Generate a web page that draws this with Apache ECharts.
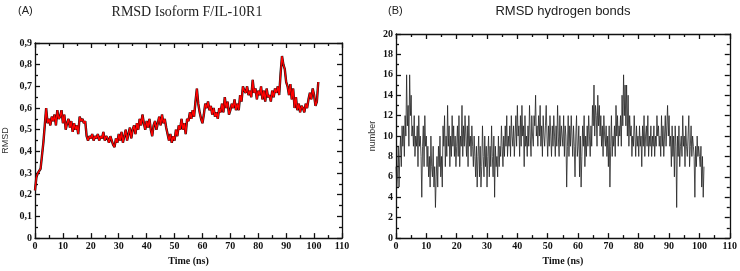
<!DOCTYPE html>
<html>
<head>
<meta charset="utf-8">
<script src="https://cdn.jsdelivr.net/npm/echarts@6/dist/echarts.min.js"></script>
<style>
  html, body { margin: 0; padding: 0; background: #fff; }
  #chart { width: 740px; height: 271px; }
</style>
</head>
<body>
<div id="chart"></div>
<script>
// panel A: RMSD (nm), one value every 0.5 ns from t = 0
const rmsdStep = 0.5;
const rmsdValues = [
  0.22, 0.28, 0.30, 0.30, 0.32, 0.38, 0.44, 0.52, 0.60, 0.53,
  0.55, 0.52, 0.56, 0.54, 0.57, 0.52, 0.59, 0.55, 0.56, 0.59,
  0.53, 0.57, 0.50, 0.53, 0.55, 0.51, 0.54, 0.49, 0.53, 0.50,
  0.52, 0.48, 0.56, 0.54, 0.55, 0.53, 0.54, 0.47, 0.45, 0.47,
  0.46, 0.48, 0.45, 0.47, 0.46, 0.48, 0.45, 0.47, 0.46, 0.49,
  0.45, 0.47, 0.46, 0.44, 0.47, 0.45, 0.43, 0.42, 0.46, 0.44,
  0.48, 0.45, 0.49, 0.44, 0.47, 0.50, 0.45, 0.48, 0.51, 0.46,
  0.50, 0.52, 0.48, 0.53, 0.50, 0.55, 0.52, 0.57, 0.53, 0.50,
  0.54, 0.51, 0.55, 0.50, 0.47, 0.52, 0.54, 0.50, 0.53, 0.56,
  0.52, 0.57, 0.53, 0.55, 0.51, 0.48, 0.45, 0.48, 0.44, 0.47,
  0.45, 0.50, 0.47, 0.52, 0.50, 0.55, 0.50, 0.53, 0.48, 0.55,
  0.54, 0.58, 0.55, 0.59, 0.56, 0.63, 0.69, 0.62, 0.58, 0.55,
  0.53, 0.57, 0.62, 0.60, 0.63, 0.59, 0.61, 0.57, 0.60, 0.56,
  0.58, 0.55, 0.60, 0.58, 0.62, 0.58, 0.65, 0.60, 0.63, 0.57,
  0.59, 0.62, 0.60, 0.64, 0.59, 0.62, 0.59, 0.66, 0.63, 0.70,
  0.68, 0.67, 0.70, 0.66, 0.68, 0.65, 0.73, 0.67, 0.69, 0.64,
  0.68, 0.66, 0.70, 0.64, 0.68, 0.63, 0.69, 0.65, 0.66, 0.63,
  0.68, 0.65, 0.69, 0.67, 0.70, 0.66, 0.76, 0.84, 0.80, 0.78,
  0.72, 0.70, 0.66, 0.71, 0.64, 0.69, 0.60, 0.65, 0.59, 0.62,
  0.58, 0.61, 0.60, 0.58, 0.62, 0.60, 0.64, 0.67, 0.64, 0.69,
  0.66, 0.61, 0.63, 0.72
];

// panel B: number of hydrogen bonds, one value every 0.25 ns from t = 0
const hbondStep = 0.25;
const hbondValues = [
  7, 5, 6, 9, 5, 8, 10, 7, 11, 9, 11, 8, 12, 10, 16, 11, 13, 9, 16, 12,
  14, 10, 11, 9, 12, 8, 10, 9, 11, 7, 12, 9, 10, 8, 4, 9, 11, 7, 12, 9,
  10, 7, 9, 6, 8, 5, 10, 7, 6, 9, 5, 7, 3, 6, 8, 5, 9, 7, 10, 6,
  8, 5, 11, 9, 12, 7, 10, 8, 13, 9, 11, 7, 10, 8, 12, 9, 11, 8, 10, 7,
  9, 11, 8, 12, 7, 10, 9, 13, 8, 11, 9, 12, 10, 8, 11, 7, 12, 9, 10, 8,
  11, 9, 7, 10, 8, 6, 9, 5, 8, 10, 6, 9, 5, 7, 11, 8, 6, 10, 7, 9,
  5, 8, 10, 6, 9, 7, 11, 8, 6, 10, 4, 9, 7, 8, 6, 10, 7, 9, 8, 11,
  9, 7, 10, 8, 11, 9, 12, 8, 10, 9, 11, 8, 12, 10, 9, 11, 8, 10, 12, 9,
  13, 10, 11, 8, 12, 9, 13, 10, 11, 7, 12, 9, 10, 8, 11, 9, 13, 10, 8, 12,
  10, 9, 12, 11, 14, 10, 11, 9, 12, 10, 13, 9, 11, 8, 12, 10, 9, 11, 13, 10,
  8, 11, 9, 12, 10, 8, 11, 9, 12, 10, 8, 11, 9, 13, 10, 8, 12, 9, 11, 10,
  9, 12, 8, 11, 10, 5, 9, 12, 8, 11, 9, 12, 10, 8, 11, 9, 6, 10, 12, 8,
  9, 11, 6, 10, 5, 8, 11, 9, 12, 7, 10, 8, 11, 9, 12, 10, 8, 11, 9, 13,
  11, 15, 10, 13, 12, 9, 14, 11, 13, 10, 12, 9, 11, 8, 12, 10, 9, 11, 8, 10,
  7, 11, 5, 9, 12, 8, 10, 9, 11, 8, 13, 10, 12, 9, 11, 10, 12, 9, 14, 11,
  16, 12, 15, 11, 15, 10, 14, 9, 12, 10, 11, 8, 10, 9, 12, 10, 8, 11, 9, 10,
  8, 11, 9, 10, 7, 11, 9, 12, 8, 10, 11, 9, 12, 8, 10, 9, 11, 8, 10, 9,
  11, 8, 10, 9, 12, 10, 11, 9, 10, 8, 12, 9, 11, 8, 10, 12, 9, 11, 13, 10,
  12, 9, 10, 7, 11, 8, 10, 6, 11, 9, 3, 10, 8, 11, 7, 9, 10, 8, 12, 9,
  10, 7, 11, 9, 8, 10, 12, 7, 9, 11, 8, 10, 9, 8, 4, 9, 7, 10, 8, 9,
  8, 7, 9, 5, 8, 4, 7
];

const serif = "'Liberation Serif', 'DejaVu Serif', serif";
const sans = "'Liberation Sans', Arial, sans-serif";

const rmsdData = rmsdValues.map((v, i) => [i * rmsdStep, v]);
const hbondData = hbondValues.map((v, i) => [i * hbondStep, v]);

const lineStyle = { color: "#111", width: 1.3 };
const tickLabel = { fontFamily: serif, fontWeight: "bold", fontSize: 10, color: "#111" };

// x axis pair (bottom with labels, top mirrored) for a grid
function xAxes(grid) {
  const base = {
    type: "value", gridIndex: grid, min: 0, max: 110, interval: 10,
    axisLine: { show: true, onZero: false, lineStyle },
    axisTick: { inside: true, length: 5, lineStyle },
    minorTick: { show: true, splitNumber: 2, length: 3, lineStyle },
    splitLine: { show: false },
  };
  return [
    {
      ...base, position: "bottom",
      axisLabel: { ...tickLabel, margin: 3 },
      name: "Time (ns)", nameLocation: "middle", nameGap: 12,
      nameTextStyle: { fontFamily: serif, fontWeight: "bold", fontSize: 10, color: "#111" },
    },
    { ...base, position: "top", axisLabel: { show: false } },
  ];
}

function yAxes(grid, max, interval, name, gap, fmt) {
  const base = {
    type: "value", gridIndex: grid, min: 0, max, interval,
    axisLine: { show: true, onZero: false, lineStyle },
    axisTick: { inside: true, length: 5, lineStyle },
    minorTick: { show: true, splitNumber: 2, length: 3, lineStyle },
    splitLine: { show: false },
  };
  return [
    {
      ...base, position: "left",
      axisLabel: { ...tickLabel, margin: 3, formatter: fmt },
      name, nameLocation: "middle", nameGap: gap,
      nameTextStyle: { fontFamily: sans, fontSize: 9, color: "#333" },
    },
    { ...base, position: "right", axisLabel: { show: false } },
  ];
}

const chart = echarts.init(document.getElementById("chart"), null, { renderer: "canvas" });

chart.setOption({
  backgroundColor: "#fff",
  animation: false,
  title: [
    { text: "(A)", left: 13, top: 0, textStyle: { fontFamily: sans, fontWeight: "normal", fontSize: 11, color: "#222" } },
    { text: "RMSD Isoform F/IL-10R1", left: 182, top: 0, textAlign: "center",
      textStyle: { fontFamily: serif, fontWeight: "normal", fontSize: 14, color: "#222" } },
    { text: "(B)", left: 383, top: 0, textStyle: { fontFamily: sans, fontWeight: "normal", fontSize: 11, color: "#222" } },
    { text: "RMSD hydrogen bonds", left: 558, top: 0, textAlign: "center",
      textStyle: { fontFamily: sans, fontWeight: "normal", fontSize: 13, color: "#222" } },
  ],
  grid: [
    { left: 33, right: 398, top: 43, bottom: 22 },
    { left: 396, right: 10, top: 34, bottom: 22 },
  ],
  xAxis: [...xAxes(0), ...xAxes(1)],
  yAxis: [
    ...yAxes(0, 0.9, 0.1, "RMSD", 25, (v) => (v === 0 ? "0" : v.toFixed(1).replace(".", ","))),
    ...yAxes(1, 20, 2, "number", 19, (v) => String(v)),
  ],
  series: [
    {
      type: "line", xAxisIndex: 0, yAxisIndex: 0, data: rmsdData,
      showSymbol: false, lineStyle: { color: "#111", width: 2.4 }, z: 2,
    },
    {
      type: "line", xAxisIndex: 0, yAxisIndex: 0, data: rmsdData,
      showSymbol: false, lineStyle: { color: "#ff0000", width: 1.4 }, z: 3,
    },
    {
      type: "line", xAxisIndex: 2, yAxisIndex: 2, data: hbondData,
      showSymbol: false, lineStyle: { color: "#222", width: 0.8 },
    },
  ],
});
</script>
</body>
</html>
